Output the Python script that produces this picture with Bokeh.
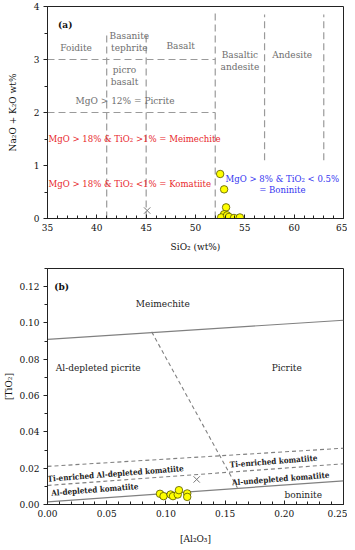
from bokeh.plotting import figure
from bokeh.layouts import column
from bokeh.models import Range1d, SingleIntervalTicker, PrintfTickFormatter
from bokeh.core.properties import value
from bokeh.embed import file_html
from bokeh.resources import INLINE

FONT = "'Nimbus Roman', 'DejaVu Serif Condensed', 'DejaVu Serif'"

# ---------------- (a) TAS diagram data ----------------
sio2 = [52.5, 52.9, 53.1, 52.9, 52.6, 53.2, 53.4, 53.9, 54.5]
alk = [0.84, 0.55, 0.21, 0.08, 0.02, 0.06, 0.03, 0.01, 0.02]
ref_a_x = [45.1]
ref_a_y = [0.15]

# field boundaries (dashed): x0, y0, x1, y1
tas_x0 = [35, 35, 41, 45, 52, 57, 63]
tas_y0 = [3, 2, 0, 0, 0, 1.1, 1.1]
tas_x1 = [52, 52, 41, 45, 52, 57, 63]
tas_y1 = [3, 2, 3.5, 3.5, 3.9, 3.85, 3.85]

tas_names = ["Foidite", "Basanite", "tephrite", "Basalt", "picro", "basalt",
             "MgO > 12%  = Picrite", "Basaltic", "andesite", "Andesite"]
tas_nx = [37.9, 43.3, 43.3, 48.5, 42.8, 42.8, 43.0, 54.5, 54.5, 59.8]
tas_ny = [3.22, 3.45, 3.22, 3.26, 2.81, 2.59, 2.23, 3.09, 2.87, 3.09]

red_txt = ["MgO > 18% & TiO₂ >1% = Meimechite", "MgO > 18% & TiO₂ <1% = Komatiite"]
red_x = [35.1, 35.1]
red_y = [1.51, 0.66]
blue_txt = ["MgO > 8% & TiO₂ < 0.5%", "= Boninite"]
blue_x = [58.8, 58.8]
blue_y = [0.75, 0.54]

# ---------------- (b) TiO2 vs Al2O3 data ----------------
al2o3 = [0.095, 0.098, 0.104, 0.106, 0.110, 0.111, 0.118, 0.118]
tio2 = [0.0059, 0.0046, 0.0055, 0.0046, 0.0055, 0.0079, 0.0061, 0.0042]
ref_b_x = [0.126]
ref_b_y = [0.0138]

solid_x0 = [0.0, 0.0]
solid_y0 = [0.091, 0.0015]
solid_x1 = [0.25, 0.25]
solid_y1 = [0.1015, 0.013]

dash_x0 = [0.0, 0.0, 0.088]
dash_y0 = [0.021, 0.0105, 0.0951]
dash_x1 = [0.25, 0.25, 0.1604]
dash_y1 = [0.031, 0.0224, 0.0092]

b_names = ["Meimechite", "Al-depleted picrite", "Picrite", "boninite"]
b_nx = [0.0974, 0.0428, 0.202, 0.216]
b_ny = [0.1106, 0.0752, 0.0757, 0.0055]

k_names = ["Ti-enriched komatiite", "Al-undepleted komatiite",
           "Ti-enriched Al-depleted komatiite", "Al-depleted komatiite"]
k_nx = [0.191, 0.197, 0.0576, 0.040]
k_ny = [0.0239, 0.0143, 0.0171, 0.0083]


def style(p):
    p.outline_line_color = "#222222"
    p.outline_line_width = 1
    p.grid.visible = False
    for ax in (p.xaxis[0], p.yaxis[0]):
        ax.axis_line_color = "#222222"
        ax.major_tick_line_color = "#222222"
        ax.minor_tick_line_color = "#222222"
        ax.major_label_text_font = FONT
        ax.major_label_text_font_size = "10px"
        ax.major_label_text_color = "#111111"
        ax.axis_label_text_font = FONT
        ax.axis_label_text_font_size = "10px"
        ax.axis_label_text_font_style = "normal"
        ax.axis_label_text_color = "#111111"
    xa, ya = p.xaxis[0], p.yaxis[0]
    xa.major_tick_in = 4
    xa.major_tick_out = 0
    xa.minor_tick_in = 3
    xa.minor_tick_out = 0
    xa.major_label_standoff = 5
    ya.major_tick_in = 0
    ya.major_tick_out = 4
    ya.minor_tick_in = 0
    ya.minor_tick_out = 3
    ya.major_label_standoff = 4


# ---------------- figure (a) ----------------
pa = figure(width=347, height=254, output_backend="svg", toolbar_location=None,
            x_range=Range1d(35, 65), y_range=Range1d(0, 4),
            min_border_left=46, min_border_right=4, min_border_top=6)
style(pa)
pa.xaxis[0].ticker = SingleIntervalTicker(interval=5, num_minor_ticks=5)
pa.yaxis[0].ticker = SingleIntervalTicker(interval=1, num_minor_ticks=2)
pa.xaxis[0].axis_label = "SiO₂ (wt%)"
pa.yaxis[0].axis_label = "Na₂O + K₂O wt%"
pa.xaxis[0].axis_label_standoff = 7
pa.yaxis[0].axis_label_standoff = 13

pa.segment(x0=tas_x0, y0=tas_y0, x1=tas_x1, y1=tas_y1,
           line_color="#9a9a9a", line_width=1.2, line_dash="7 4")
pa.text(x=tas_nx, y=tas_ny, text=tas_names, text_align="center",
        text_baseline="middle", text_font=value(FONT),
        text_font_size="10px", text_color="#6e6e6e")
pa.text(x=[36.8], y=[3.66], text=["(a)"], text_align="center",
        text_baseline="middle", text_font=value(FONT), text_font_style="bold",
        text_font_size="10px", text_color="#111111")
pa.text(x=red_x, y=red_y, text=red_txt, text_align="left",
        text_baseline="middle", text_font=value(FONT),
        text_font_size="9.5px", text_color="#e8262a")
pa.text(x=blue_x, y=blue_y, text=blue_txt, text_align="center",
        text_baseline="middle", text_font=value(FONT),
        text_font_size="9.5px", text_color="#3434f0")
pa.scatter(x=ref_a_x, y=ref_a_y, marker="x", size=9,
           line_color="#777777", line_width=1)
pa.scatter(x=sio2, y=alk, marker="circle", size=7.5,
           fill_color="#ffff00", line_color="#555500", line_width=0.8)

# ---------------- figure (b) ----------------
pb = figure(width=347, height=292, output_backend="svg", toolbar_location=None,
            x_range=Range1d(0, 0.25), y_range=Range1d(0, 0.13),
            min_border_left=46, min_border_right=4, min_border_top=14)
style(pb)
pb.xaxis[0].ticker = SingleIntervalTicker(interval=0.05, num_minor_ticks=5)
pb.yaxis[0].ticker = SingleIntervalTicker(interval=0.02, num_minor_ticks=2)
pb.xaxis[0].axis_label = "[Al₂O₃]"
pb.yaxis[0].axis_label = "[TiO₂]"
pb.xaxis[0].axis_label_standoff = 13
pb.yaxis[0].axis_label_standoff = 2
pb.xaxis[0].formatter = PrintfTickFormatter(format="%.2f")
pb.yaxis[0].formatter = PrintfTickFormatter(format="%.2f")

pb.segment(x0=solid_x0, y0=solid_y0, x1=solid_x1, y1=solid_y1,
           line_color="#808080", line_width=1.2)
pb.segment(x0=dash_x0, y0=dash_y0, x1=dash_x1, y1=dash_y1,
           line_color="#808080", line_width=1.1, line_dash="4 3")
pb.text(x=b_nx, y=b_ny, text=b_names, text_align="center",
        text_baseline="middle", text_font=value(FONT),
        text_font_size="10px", text_color="#222222")
pb.text(x=k_nx, y=k_ny, text=k_names, text_align="center",
        text_baseline="middle", text_font=value(FONT), text_font_style="bold",
        text_font_size="8px", text_color="#222222", angle=0.078)
pb.text(x=[0.012], y=[0.12], text=["(b)"], text_align="center",
        text_baseline="middle", text_font=value(FONT), text_font_style="bold",
        text_font_size="10px", text_color="#111111")
pb.scatter(x=ref_b_x, y=ref_b_y, marker="x", size=9,
           line_color="#777777", line_width=1)
pb.scatter(x=al2o3, y=tio2, marker="circle", size=7.5,
           fill_color="#ffff00", line_color="#555500", line_width=0.8)

layout = column(pa, pb)
open("out.html", "w").write(file_html(layout, INLINE))
